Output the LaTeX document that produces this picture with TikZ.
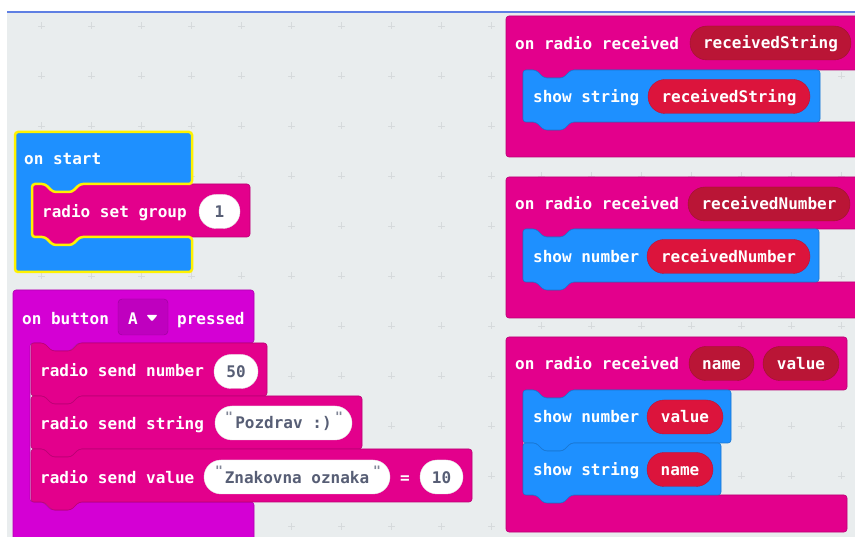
\documentclass[tikz,border=0pt]{standalone}
\usepackage{fontspec}
\setmonofont{DejaVu Sans Mono}
\usetikzlibrary{calc}

\definecolor{canvas}{HTML}{E9EDEE}
\definecolor{gridmark}{HTML}{D6DADC}
\definecolor{topline}{HTML}{5F7FE3}
\definecolor{basicblue}{HTML}{1E90FF}
\definecolor{radiopink}{HTML}{E3008C}
\definecolor{inputmag}{HTML}{D400D4}
\definecolor{paramred}{HTML}{BA1536}
\definecolor{varred}{HTML}{DC143C}
\definecolor{slottext}{HTML}{575E75}
\definecolor{pickyellow}{HTML}{FFF200}

\newcommand{\blocktext}{\ttfamily\bfseries\fontsize{16}{18}\selectfont}
\newcommand{\quotetext}{\ttfamily\bfseries\fontsize{13}{14}\selectfont}

% statement block: [style]{x}{y}{width}{height}, notch on top, tab below
\newcommand{\stmtblock}[5][]{%
  \path[rounded corners=3pt,#1] (#2,{#3+10}) -- (#2,#3) -- ({#2+13},#3) -- ({#2+21},{#3+8})
    -- ({#2+40},{#3+8}) -- ({#2+48},#3) -- ({#2+#4},#3) -- ({#2+#4},{#3+#5})
    -- ({#2+48},{#3+#5}) -- ({#2+40},{#3+#5+8}) -- ({#2+21},{#3+#5+8}) -- ({#2+13},{#3+#5})
    -- (#2,{#3+#5}) -- cycle;}
% event block: [style]{x}{y}{width}{bar}{mouth}{foot}{foot width}
\newcommand{\eventblock}[8][]{%
  \path[rounded corners=3pt,#1] (#2,{#3+10}) -- (#2,#3) -- ({#2+#4},#3) -- ({#2+#4},{#3+#5})
    -- ({#2+65},{#3+#5}) -- ({#2+57},{#3+#5+8}) -- ({#2+38},{#3+#5+8}) -- ({#2+30},{#3+#5})
    -- ({#2+17},{#3+#5}) -- ({#2+17},{#3+#5+#6})
    -- ({#2+30},{#3+#5+#6}) -- ({#2+38},{#3+#5+#6+8}) -- ({#2+57},{#3+#5+#6+8}) -- ({#2+65},{#3+#5+#6})
    -- ({#2+#8},{#3+#5+#6}) -- ({#2+#8},{#3+#5+#6+#7}) -- (#2,{#3+#5+#6+#7}) -- cycle;}

\tikzstyle{bluebody} = [fill=basicblue, draw=basicblue!82!black, line width=0.6pt]
\tikzstyle{pinkbody} = [fill=radiopink, draw=radiopink!82!black, line width=0.6pt]
\tikzstyle{magbody} = [fill=inputmag, draw=inputmag!82!black, line width=0.6pt]
\tikzstyle{word} = [anchor=west, inner sep=0pt, text=white, font=\blocktext, text height=12pt, text depth=0pt]
\tikzstyle{pill} = [rounded corners=17pt, minimum height=34pt, inner sep=0pt, font=\blocktext, text height=12pt, text depth=0pt]
\tikzstyle{slot} = [pill, fill=white, draw=black!10, text=slottext]
\tikzstyle{param} = [pill, fill=paramred, draw=paramred!85!black, text=white]
\tikzstyle{var} = [pill, fill=varred, draw=varred!85!black, text=white]
\tikzstyle{quote} = [inner sep=0pt, font=\quotetext, text=slottext!75]

\begin{document}
\begin{tikzpicture}[x=1pt, y=-1pt]
    \useasboundingbox (0,0) rectangle (855,537);
    \clip (0,0) rectangle (855,537);

    % workspace
    \fill[canvas] (7,12) rectangle (855,537);
    \draw[topline, line width=1.2pt] (7,12) -- (855,12);
    \foreach \gx in {0,...,16}
      \foreach \gy in {0,...,10}
        \draw[gridmark, line width=0.8pt] ({41.7+50*\gx-3.5},{26+50*\gy}) -- ++(7,0)
             ({41.7+50*\gx},{26+50*\gy-3.5}) -- ++(0,7);

    % on start
    \eventblock[bluebody]{15}{132}{177}{52}{53}{35}{177}
    \stmtblock[pinkbody]{32}{184}{218}{53}
    \eventblock[draw=pickyellow, line width=2.5pt]{15}{132}{177}{52}{53}{35}{177}

    % on button pressed
    \eventblock[magbody]{13}{290}{241}{53}{159}{60}{241}
    \stmtblock[pinkbody]{31}{343}{236}{53}
    \stmtblock[pinkbody]{31}{396}{331}{53}
    \stmtblock[pinkbody]{31}{449}{441}{53}
    \node[fill=inputmag!90!black, draw=inputmag!72!black, rounded corners=4pt,
          minimum width=50pt, minimum height=36pt] (keybox) at (143,317) {};
    \fill[white, rounded corners=1pt] (146.5,315) -- (157.5,315) -- (152,321.5) -- cycle;

    % on radio received
    \eventblock[pinkbody]{506}{16}{360}{54}{52}{35}{360}
    \stmtblock[bluebody]{523}{70}{297}{52}
    \eventblock[pinkbody]{506}{177}{360}{52}{53}{36}{360}
    \stmtblock[bluebody]{523}{229}{296}{53}
    \eventblock[pinkbody]{506}{337}{341}{53}{105}{37}{341}
    \stmtblock[bluebody]{523}{390}{208}{53}
    \stmtblock[bluebody]{523}{443}{198}{52}

    % block texts
    \foreach \pos/\name/\txt in {{(24,159)/startlbl/on start},{(42,212)/setgrp/radio set group},
        {(22,319)/btnlbl/on button},{(128,319)/btnkey/A},{(177,319)/pressedlbl/pressed},
        {(40,371)/sendnum/radio send number},{(40,424)/sendstr/radio send string},
        {(40,477)/sendval/radio send value},{(400,477)/eqsign/=},
        {(515,44)/rxstr/on radio received},{(533,97)/showstr/show string},
        {(515,204)/rxnum/on radio received},{(533,257)/shownum/show number},
        {(515,364)/rxval/on radio received},{(533,417)/showvalnum/show number},
        {(533,470)/showvalstr/show string}}
        \node[word] (\name) at \pos {\txt};

    % inputs
    \foreach \pos/\pw/\name/\txt in {{(219.5,211.5)/41/grpval/1},{(236,371.5)/44/numval/50},
        {(283.5,423)/137/strval/Pozdrav :)},{(297,477)/186/keyval/Znakovna oznaka},
        {(441.5,477)/43/valval/10}}
        \node[slot, minimum width=\pw pt] (\name) at \pos {\txt};
    \foreach \pos/\name in {{(229,417)/qa},{(339,417)/qb},{(219,471)/qc},{(377,471)/qd}}
        \node[quote] (\name) at \pos {"};

    % parameters and variables
    \foreach \pos/\pw/\name/\txt in {{(770.5,43)/161/prmstr/receivedString},
        {(769,204)/162/prmnum/receivedNumber},{(721.5,363.5)/65/prmname/name},
        {(801,363.5)/76/prmvalue/value}}
        \node[param, minimum width=\pw pt] (\name) at \pos {\txt};
    \foreach \pos/\pw/\name/\txt in {{(729,96.5)/162/varstr/receivedString},
        {(728.5,256.5)/163/varnum/receivedNumber},{(685,417)/76/varvalue/value},
        {(680,469.5)/66/varname/name}}
        \node[var, minimum width=\pw pt] (\name) at \pos {\txt};

\end{tikzpicture}
\end{document}
